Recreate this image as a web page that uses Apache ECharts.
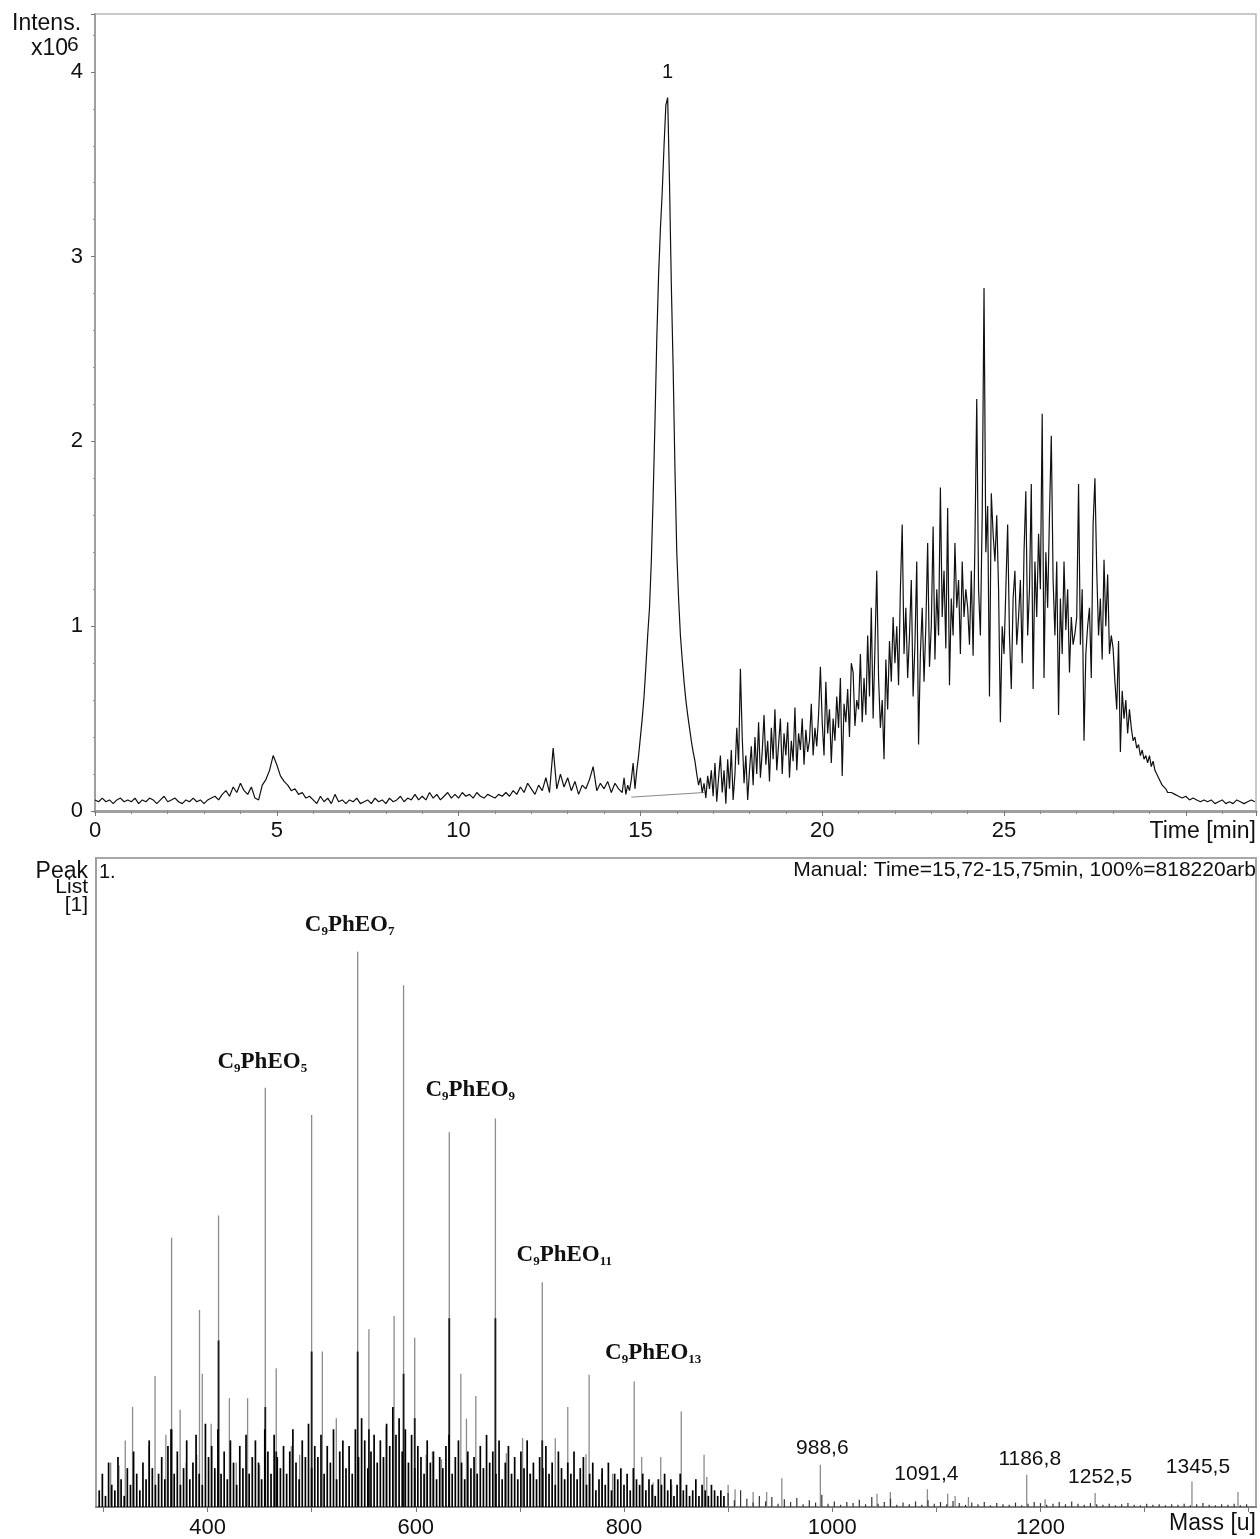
<!DOCTYPE html>
<html><head><meta charset="utf-8">
<script src="https://cdn.jsdelivr.net/npm/echarts@6/dist/echarts.min.js"></script>
<style>html,body{margin:0;padding:0;background:#fff}#c{width:1260px;height:1539px}</style>
</head><body><div id="c"></div>
<script>
// ---------------- Chromatogram (Intens. x10^6 vs Time [min]) ----------------
// sampled 0.0 - 14.4 min, every 0.1 min
const chromLowStart = 0.0, chromLowStep = 0.1;
const intensLow = [
  0.06,0.05,0.07,0.05,0.06,0.04,0.06,0.07,0.05,0.06,
  0.05,0.07,0.04,0.06,0.05,0.07,0.06,0.04,0.06,0.08,
  0.05,0.06,0.07,0.05,0.04,0.06,0.05,0.07,0.05,0.06,
  0.04,0.06,0.07,0.08,0.06,0.09,0.11,0.08,0.13,0.10,
  0.15,0.11,0.09,0.13,0.07,0.06,0.14,0.17,0.22,0.30,
  0.25,0.19,0.16,0.14,0.11,0.12,0.09,0.10,0.07,0.08,
  0.06,0.04,0.08,0.05,0.07,0.04,0.09,0.05,0.06,0.04,
  0.06,0.05,0.07,0.04,0.05,0.06,0.04,0.07,0.05,0.06,
  0.04,0.07,0.05,0.06,0.08,0.05,0.07,0.06,0.09,0.06,
  0.08,0.06,0.10,0.07,0.09,0.06,0.08,0.10,0.07,0.09,
  0.07,0.10,0.08,0.09,0.07,0.10,0.08,0.07,0.09,0.08,
  0.07,0.09,0.08,0.10,0.08,0.11,0.09,0.13,0.10,0.15,
  0.12,0.09,0.14,0.11,0.18,0.10,0.34,0.12,0.20,0.13,
  0.18,0.11,0.16,0.09,0.14,0.12,0.17,0.24,0.11,0.15,
  0.12,0.16,0.10,0.15,0.12
];
// sampled 14.45 - 29.50 min, every 0.05 min
const chromMainStart = 14.45, chromMainStep = 0.05;
const intensMain = [
  0.13,0.10,0.18,0.09,0.14,0.11,0.17,0.26,0.12,0.22,0.30,
  0.40,0.50,0.62,0.78,0.95,1.10,1.35,1.70,2.10,2.55,2.90,3.15,3.35,3.60,3.82,3.86,3.40,2.85,2.40,1.85,
  1.40,1.15,0.95,0.82,0.70,0.60,0.52,0.45,0.38,0.32,0.27,0.20,0.14,0.18,0.10,0.15,0.07,0.19,0.12,0.22,
  0.08,0.26,0.05,0.18,0.30,0.10,0.22,0.04,0.28,0.12,0.33,0.06,0.20,0.45,0.25,0.77,0.40,0.15,0.30,0.06,
  0.22,0.35,0.14,0.40,0.20,0.48,0.18,0.32,0.52,0.25,0.38,0.16,0.45,0.28,0.55,0.22,0.36,0.50,0.20,0.42,
  0.30,0.48,0.18,0.38,0.27,0.56,0.22,0.42,0.33,0.50,0.25,0.44,0.32,0.38,0.58,0.30,0.45,0.35,0.52,0.78,
  0.48,0.30,0.70,0.42,0.55,0.26,0.50,0.38,0.62,0.45,0.72,0.19,0.58,0.48,0.66,0.40,0.80,0.75,0.46,0.60,
  0.55,0.85,0.48,0.72,0.52,0.95,0.62,1.10,0.50,0.88,1.30,0.72,0.45,0.60,0.28,0.82,0.55,0.92,0.70,1.05,
  0.80,1.00,0.68,1.20,1.55,0.85,1.10,0.72,0.95,1.25,0.62,0.90,1.35,0.36,0.85,1.10,0.70,1.00,1.45,0.78,
  1.00,1.54,0.82,1.20,0.95,1.75,1.05,1.30,0.88,1.64,0.68,1.15,0.95,1.45,1.10,1.25,0.85,1.35,1.05,1.20,
  1.10,0.90,1.30,0.84,1.45,2.23,1.20,0.95,1.60,2.83,1.40,1.65,0.62,1.72,1.50,1.35,1.60,1.20,0.48,1.00,
  0.85,1.20,1.55,0.95,0.66,1.15,1.30,0.90,1.05,1.25,0.80,1.40,1.73,0.95,1.20,1.77,0.66,1.35,1.05,1.50,
  1.20,2.15,0.72,1.40,1.10,1.60,2.03,1.25,0.95,1.35,0.52,1.15,0.85,1.35,0.98,1.20,0.75,1.05,0.90,0.96,
  1.05,1.77,0.90,1.20,0.38,0.85,1.00,1.10,0.72,1.55,1.80,1.30,0.95,1.15,0.82,1.36,1.00,1.28,0.85,0.95,
  0.88,0.70,0.55,0.92,0.32,0.65,0.50,0.60,0.42,0.55,0.45,0.38,0.40,0.34,0.36,0.30,0.33,0.28,0.30,0.26,
  0.30,0.24,0.27,0.22,0.20,0.18,0.16,0.14,0.13,0.12,0.10
];
// sampled 29.6 - 31.9 min, every 0.1 min
const chromTailStart = 29.6, chromTailStep = 0.1;
const intensTail = [
  0.10,0.09,0.08,0.07,0.08,0.06,0.07,0.06,0.05,0.06,
  0.05,0.06,0.04,0.05,0.06,0.04,0.05,0.04,0.06,0.05,
  0.04,0.05,0.06,0.05
];
// integration baseline of peak 1
const baselineTime = [14.75, 16.75];
const baselineIntens = [0.075, 0.10];
const peakLabelTime = [15.75];
const peakLabelText = ['1'];

const chromXTicks = [0, 5, 10, 15, 20, 25];
const chromYTicks = [0, 1, 2, 3, 4];

// ---------------- Mass spectrum (Peak 1, Mass [u]) ----------------
const massTickLabels = [400, 600, 800, 1000, 1200];
const massTicks = [300, 400, 500, 600, 700, 800, 900, 1000, 1100, 1200, 1300, 1400];

// prominent lines (relative intensity, %)
const peakMass = [307,315,321,328,343.7,349.6,360,365.5,373.7,379.5,389.6,392.3,395,403.5,410.6,421,427.6,438.5,450,455.5,
  466,480.5,488.5,500,510.3,523.7,544.2,555,571.5,579.2,588.3,599,610,616,624.7,632.2,643.3,648.7,657.7,676.5,
  687,702.6,709.6,721.5,734,746,763.5,766.5,778.5,789,809.8,817,828,835.3,845.8,855,876.9,879.5,900,906.7,
  924,937,951.6,988.6,1043,1055.8,1091.4,1110.9,1118,1130.8,1186.8,1204.5,1252.5,1345.5,1389.7];
const peakInt = [8,7.5,12,18,11,23.6,13,48.5,17.5,8,9.4,35.5,24,15,52.5,19.6,8,19.6,7.6,75.5,
  25,11,9.4,70.6,28,16,100,32,14.4,34.4,94,30.5,9.4,10,8.6,67.5,24,15.9,20,70,
  9.7,12.4,6,40.5,12.4,18,9.5,23.8,6,6,22.6,9,4.4,9,4,17.2,9.4,5.4,4,3.2,
  2.7,2.7,5.2,7.6,2.4,2.7,3.2,2.4,2,1.8,5.8,1.4,2.5,4.6,2.7];
// darker (overlapping) lower parts of the main lines
const coreMass = [365.5,410.6,455.5,466,500,544.2,555,588.3,599,632.2,676.5,721.5];
const coreInt  = [14,30,18,10,28,28,14,24,16,34,34,12];
// dense low-level lines, 296 - 896 u every 3 u
const grassStart = 296, grassStep = 3;
const grassInt = [
  3,6,2,8,4,3,9,5,2,7,
  4,10,6,3,8,5,12,7,4,6,
  9,5,11,14,6,10,4,7,12,5,
  8,13,6,4,15,9,11,7,14,6,
  10,5,12,8,4,11,7,13,6,9,
  12,8,5,14,10,6,13,9,7,11,
  6,10,14,8,5,12,9,15,7,11,
  9,13,6,11,8,14,5,10,12,7,
  11,6,14,9,16,12,7,10,13,8,
  12,9,15,11,18,13,16,10,14,8,
  13,7,11,9,6,12,8,10,5,9,
  7,11,13,6,9,12,8,5,10,7,
  9,6,11,7,13,8,10,6,12,5,
  8,11,6,9,5,10,7,12,6,8,
  5,9,7,11,6,8,4,10,7,5,
  8,6,10,5,7,9,4,6,8,3,
  5,7,4,8,3,6,5,7,4,6,
  3,7,5,4,6,3,5,4,2,5,
  4,6,3,5,2,4,6,3,4,2,
  3,5,2,4,3,2,4,3,2,3,
  2
];
// high-mass low-level lines, 900 - 1398 u every 6 u
const tailStart = 900, tailStep = 6;
const tailInt = [
  2.5,1.2,3,1.5,0.8,2,1,1.8,0.6,1.4,
  0.9,1.6,0.5,1.2,0.8,2.2,0.6,1,0.4,0.9,
  0.7,1.3,0.5,1.8,0.6,0.9,1.5,0.4,0.8,0.5,
  1,0.4,1.2,0.6,0.9,0.5,1.1,0.7,0.4,0.8,
  0.5,0.9,0.3,0.7,0.5,0.4,0.8,0.3,0.6,0.9,
  0.7,0.4,0.6,0.9,0.5,1,0.6,0.4,0.7,0.5,
  0.4,0.6,0.3,0.5,0.7,0.4,0.3,0.6,0.4,0.5,
  0.3,0.5,0.4,0.6,0.3,0.5,0.7,0.4,0.3,0.5,
  0.4,0.6,0.3,0.5
];
// annotated ions
const ionNames = ['C9PhEO5','C9PhEO7','C9PhEO9','C9PhEO11','C9PhEO13'];
const ionMass  = [455.5, 544.2, 632.2, 721.5, 809.8];
const massLabels = [988.6, 1091.4, 1186.8, 1252.5, 1345.5];

// ---------------- build ----------------
function grid(start, step, vals) {
  return vals.map((v, i) => [+(start + i * step).toFixed(3), v]);
}
const chromData = grid(chromLowStart, chromLowStep, intensLow)
  .concat(grid(chromMainStart, chromMainStep, intensMain))
  .concat(grid(chromTailStart, chromTailStep, intensTail));
function lookupChrom(t) {
  let best = chromData[0];
  chromData.forEach(p => { if (Math.abs(p[0] - t) < Math.abs(best[0] - t)) best = p; });
  return best[1];
}
function lookupPeak(m) {
  const i = peakMass.indexOf(m);
  return i >= 0 ? peakInt[i] : 0;
}

const SANS = '"Liberation Sans", Arial, sans-serif';
const SERIF = '"Liberation Serif", "Times New Roman", serif';
const TXT = '#111';

// label layout (pixel offsets from each peak top)
const ionOffsets = [[-3, -12], [-8, -13], [21, -29], [22, -14], [19, -15]];
const massOffsets = [[2, -5], [-1, -4], [3, -4], [5, -4], [6, -3]];

function spikes(name, masses, heights, color, width, z) {
  return {
    type: 'custom', name, xAxisIndex: 1, yAxisIndex: 1, z, silent: true,
    data: masses.map((m, i) => [m, heights[i]]),
    encode: { x: 0, y: 1 },
    clip: true,
    renderItem: (params, api) => {
      const p0 = api.coord([api.value(0), 0]);
      const p1 = api.coord([api.value(0), api.value(1)]);
      return { type: 'line', shape: { x1: p0[0], y1: p0[1], x2: p1[0], y2: p1[1] },
               style: { stroke: color, lineWidth: width } };
    }
  };
}
const labelHolder = { color: 'rgba(0,0,0,0)', opacity: 1 };

const grassMass = grassInt.map((v, i) => grassStart + i * grassStep);
const tailMass = tailInt.map((v, i) => tailStart + i * tailStep);

const chart = echarts.init(document.getElementById('c'), null, { renderer: 'canvas' });
chart.setOption({
  animation: false,
  backgroundColor: '#fff',
  grid: [
    { left: 95, top: 14, width: 1161, height: 797, show: true, borderColor: '#b8b8b8', borderWidth: 1.5, backgroundColor: 'transparent' },
    { left: 96, top: 858, width: 1160, height: 649, show: true, borderColor: '#a8a8a8', borderWidth: 2, backgroundColor: 'transparent' }
  ],
  xAxis: [
    { type: 'value', gridIndex: 0, min: 0, max: 31.93, interval: 5,
      axisLine: { show: true, onZero: false, lineStyle: { color: '#a0a0a0', width: 3 } },
      axisTick: { show: true, length: 5, lineStyle: { color: '#777', width: 1 } },
      minorTick: { show: true, splitNumber: 5, length: 3, lineStyle: { color: '#888' } },
      splitLine: { show: false },
      axisLabel: { margin: 9, fontSize: 22, fontFamily: SANS, color: TXT,
        customValues: chromXTicks, formatter: v => String(v) } },
    { type: 'value', gridIndex: 1, min: 292.9, max: 1407,
      axisLine: { show: true, onZero: false, lineStyle: { color: '#808080', width: 2 } },
      axisTick: { show: true, length: 5, customValues: massTicks, lineStyle: { color: '#777' } },
      splitLine: { show: false },
      axisLabel: { margin: 10, fontSize: 22, fontFamily: SANS, color: TXT,
        customValues: massTickLabels, formatter: v => String(v) } }
  ],
  yAxis: [
    { type: 'value', gridIndex: 0, min: 0, max: 4.313, interval: 1,
      axisLine: { show: true, onZero: false, lineStyle: { color: '#a0a0a0', width: 2 } },
      axisTick: { show: true, length: 4, lineStyle: { color: '#777' } },
      minorTick: { show: true, splitNumber: 5, length: 2, lineStyle: { color: '#999' } },
      splitLine: { show: false },
      axisLabel: { margin: 12, fontSize: 22, fontFamily: SANS, color: TXT,
        customValues: chromYTicks, formatter: v => String(v) } },
    { type: 'value', gridIndex: 1, min: 0, max: 116.9,
      axisLine: { show: true, onZero: false, lineStyle: { color: '#a0a0a0', width: 2 } },
      axisTick: { show: false }, splitLine: { show: false }, axisLabel: { show: false } }
  ],
  series: [
    { type: 'line', name: 'TIC', xAxisIndex: 0, yAxisIndex: 0, data: chromData,
      symbol: 'none', showSymbol: false, sampling: null, clip: true,
      lineStyle: { color: '#111', width: 1.2 }, z: 3 },
    { type: 'line', name: 'baseline', xAxisIndex: 0, yAxisIndex: 0,
      data: baselineTime.map((t, i) => [t, baselineIntens[i]]),
      symbol: 'none', lineStyle: { color: '#8a8a8a', width: 1 }, z: 2 },
    { type: 'scatter', name: 'peaklabel', xAxisIndex: 0, yAxisIndex: 0, silent: true,
      symbolSize: 1, itemStyle: labelHolder,
      data: peakLabelTime.map((t, i) => ({ value: [t, lookupChrom(t)], name: peakLabelText[i] })),
      label: { show: true, position: 'top', distance: 0, offset: [0, -15], formatter: p => p.name,
        fontSize: 20, fontFamily: SANS, color: TXT, opacity: 1 }, z: 5 },
    spikes('peaks', peakMass, peakInt, '#8c8c8c', 1.3, 2),
    spikes('cores', coreMass, coreInt, '#1a1a1a', 1.8, 3),
    spikes('grass', grassMass, grassInt, '#000', 1.7, 4),
    spikes('tail', tailMass, tailInt, '#333', 1.2, 4),
    { type: 'scatter', name: 'ions', xAxisIndex: 1, yAxisIndex: 1, silent: true,
      symbolSize: 1, itemStyle: labelHolder,
      data: ionMass.map((m, i) => ({ value: [m, lookupPeak(m)], name: ionNames[i],
        label: { offset: ionOffsets[i] } })),
      label: { show: true, position: 'top', distance: 0, opacity: 1,
        formatter: p => p.name.replace(/^C(\d+)PhEO(\d+)$/, 'C{s|$1}PhEO{s|$2}'),
        fontSize: 23, fontWeight: 'bold', fontFamily: SERIF, color: '#111', lineHeight: 26,
        rich: { s: { fontSize: 13, fontWeight: 'bold', fontFamily: SERIF, color: '#111', verticalAlign: 'bottom' } } },
      z: 6 },
    { type: 'scatter', name: 'masses', xAxisIndex: 1, yAxisIndex: 1, silent: true,
      symbolSize: 1, itemStyle: labelHolder,
      data: massLabels.map((m, i) => ({ value: [m, lookupPeak(m)], name: m.toFixed(1).replace('.', ','),
        label: { offset: massOffsets[i] } })),
      label: { show: true, position: 'top', distance: 0, opacity: 1, formatter: p => p.name,
        fontSize: 21, fontFamily: SANS, color: TXT, lineHeight: 22 }, z: 6 }
  ],
  graphic: [
    { type: 'text', x: 12, y: 24, style: { text: 'Intens.', font: '23px ' + SANS, fill: TXT, textAlign: 'left', textVerticalAlign: 'middle' } },
    { type: 'text', x: 31, y: 49, style: { text: 'x10', font: '23px ' + SANS, fill: TXT, textAlign: 'left', textVerticalAlign: 'middle' } },
    { type: 'text', x: 67, y: 45, style: { text: '6', font: '21px ' + SANS, fill: TXT, textAlign: 'left', textVerticalAlign: 'middle' } },
    { type: 'text', x: 1256, y: 832, style: { text: 'Time [min]', font: '23px ' + SANS, fill: TXT, textAlign: 'right', textVerticalAlign: 'middle' } },
    { type: 'text', x: 88, y: 872, style: { text: 'Peak', font: '23px ' + SANS, fill: TXT, textAlign: 'right', textVerticalAlign: 'middle' } },
    { type: 'text', x: 88, y: 887, style: { text: 'List', font: '21px ' + SANS, fill: TXT, textAlign: 'right', textVerticalAlign: 'middle' } },
    { type: 'text', x: 88, y: 905, style: { text: '[1]', font: '21px ' + SANS, fill: TXT, textAlign: 'right', textVerticalAlign: 'middle' } },
    { type: 'text', x: 99, y: 872, style: { text: '1.', font: '20px ' + SANS, fill: TXT, textAlign: 'left', textVerticalAlign: 'middle' } },
    { type: 'text', x: 1256, y: 870, style: { text: 'Manual: Time=15,72-15,75min, 100%=818220arb', font: '21px ' + SANS, fill: TXT, textAlign: 'right', textVerticalAlign: 'middle' } },
    { type: 'text', x: 1256, y: 1524, style: { text: 'Mass [u]', font: '23px ' + SANS, fill: TXT, textAlign: 'right', textVerticalAlign: 'middle' } }
  ]
});
</script>
</body></html>
